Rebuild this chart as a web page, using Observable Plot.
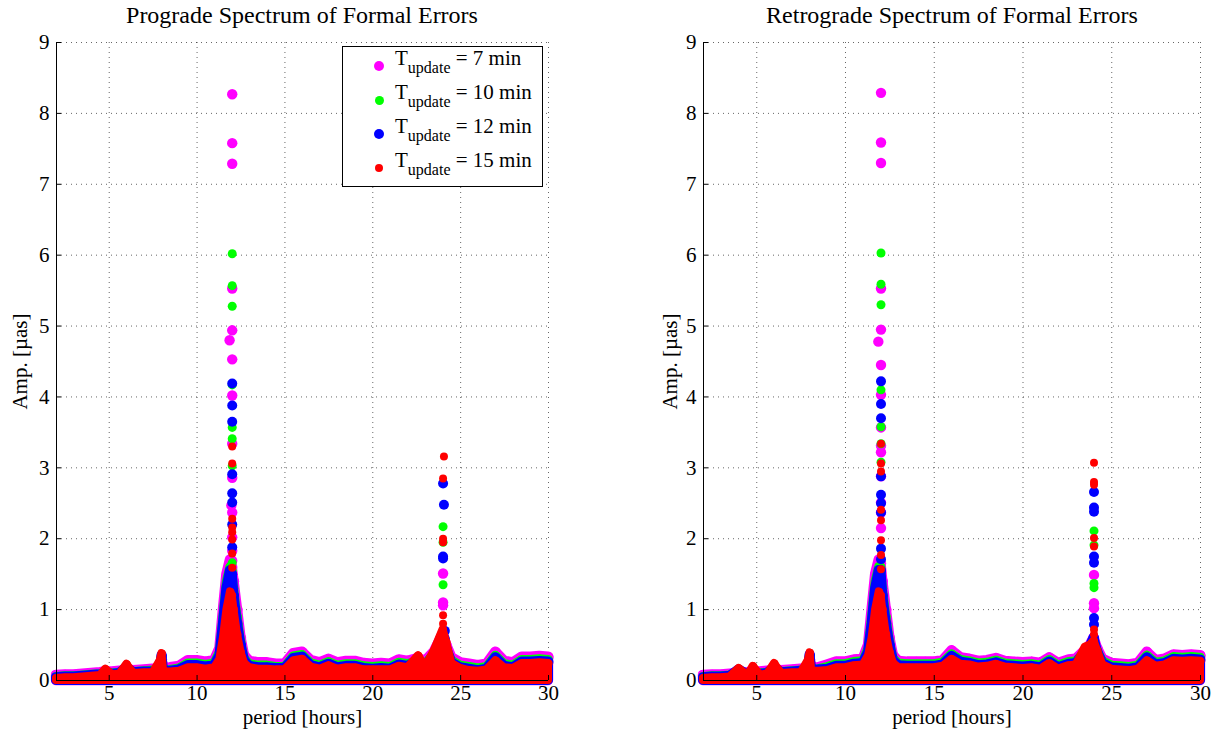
<!DOCTYPE html>
<html>
<head>
<meta charset="utf-8">
<script src="https://cdn.jsdelivr.net/npm/d3@7"></script>
<script src="https://cdn.jsdelivr.net/npm/@observablehq/plot@0.6"></script>
<style>
  body { margin: 0; background: #fff; }
  #wrap { position: relative; width: 1217px; height: 730px; font-family: "Liberation Serif", "Times New Roman", serif; color: #000; }
  .title { position: absolute; top: 2px; font-size: 24px; text-align: center; width: 500px; }
  .panel { position: absolute; top: 30px; }
  #legend { position: absolute; left: 342px; top: 46px; width: 199px; height: 139px; border: 1px solid #000; background: #fff; }
  .row { position: absolute; left: 0; height: 30px; font-size: 21px; white-space: nowrap; }
  .row .dot { position: absolute; border-radius: 50%; }
  .row .txt { position: absolute; left: 52px; top: -3px; }
  .row sub { font-size: 16px; vertical-align: -8px; }
</style>
</head>
<body>
<div id="wrap">
  <div class="title" style="left:52px">Prograde Spectrum of Formal Errors</div>
  <div class="title" style="left:702px">Retrograde Spectrum of Formal Errors</div>
  <div class="panel" id="left" style="left:0px"></div>
  <div class="panel" id="right" style="left:620px"></div>
  <div id="legend"></div>
</div>
<script>
// ---- data ----
const seriesNames = ["7 min", "10 min", "12 min", "15 min"];
const seriesColors = ["#ff00ff", "#00ff00", "#0000ff", "#ff0000"];
const seriesRadius = [5.2, 4.5, 5, 4];
const xTicks = [5, 10, 15, 20, 25, 30];
const yTicks = [0, 1, 2, 3, 4, 5, 6, 7, 8, 9];
const xDomain = [2, 30];
const yDomain = [0, 9];

// periods [hours] at which the upper edge of the dense point band was read
const periods = [2, 2.5, 3, 3.5, 4, 4.5, 4.8, 5.2, 5.6, 6, 6.4, 7, 7.5, 7.9, 8, 8.1, 8.5, 9, 9.5, 10,
  10.5, 11, 11.3, 11.5, 11.7, 11.9, 12, 12.1, 12.3, 12.5, 12.7, 13, 13.5, 14, 14.5, 15, 15.5, 16, 16.5, 17,
  17.5, 18, 18.5, 19, 19.5, 20, 20.5, 21, 21.5, 22, 22.6, 23, 23.5, 23.8, 24, 24.2, 24.5, 25, 25.5, 26,
  26.5, 27, 27.5, 28, 28.5, 29, 29.5, 30];

// Prograde band upper edge
const proM = [0.07,0.08,0.08,0.09,0.10,0.11,0.12,0.12,0.13,0.15, 0.14,0.15,0.16,0.16,0.30,0.16,0.18,0.20,0.28,0.28,
  0.26,0.28,0.45,1.00,1.50,1.70,1.60,1.40,1.00,0.60, 0.35,0.27,0.25,0.25,0.23,0.23,0.38,0.40,0.28,0.25,
  0.30,0.25,0.27,0.27,0.24,0.23,0.24,0.23,0.29,0.27, 0.31,0.27,0.40,0.55,0.65,0.50,0.32,0.25,0.23,0.21,
  0.23,0.40,0.27,0.25,0.33,0.33,0.34,0.33];
const proG = [0.05,0.06,0.06,0.07,0.08,0.09,0.10,0.10,0.11,0.13, 0.12,0.13,0.14,0.14,0.32,0.14,0.15,0.17,0.24,0.24,
  0.22,0.24,0.40,0.90,1.40,1.60,1.55,1.30,0.90,0.55, 0.31,0.23,0.21,0.21,0.19,0.19,0.34,0.36,0.24,0.21,
  0.26,0.21,0.23,0.23,0.20,0.19,0.20,0.19,0.25,0.23, 0.27,0.23,0.37,0.50,0.60,0.46,0.28,0.21,0.19,0.17,
  0.19,0.35,0.23,0.21,0.29,0.29,0.30,0.29];
const proB = [0.04,0.05,0.05,0.06,0.07,0.08,0.09,0.09,0.10,0.18, 0.11,0.12,0.12,0.13,0.35,0.13,0.13,0.15,0.21,0.21,
  0.19,0.21,0.35,0.80,1.30,1.55,1.50,1.20,0.80,0.50, 0.28,0.20,0.18,0.18,0.17,0.17,0.31,0.33,0.21,0.18,
  0.23,0.18,0.20,0.20,0.17,0.16,0.17,0.16,0.22,0.20, 0.27,0.20,0.36,0.48,0.60,0.45,0.25,0.18,0.16,0.14,
  0.16,0.32,0.20,0.18,0.26,0.26,0.27,0.26];
const proR = [0.03,0.04,0.04,0.05,0.06,0.07,0.16,0.08,0.09,0.23, 0.10,0.11,0.11,0.28,0.38,0.12,0.12,0.13,0.18,0.18,
  0.16,0.18,0.30,0.60,1.00,1.25,1.20,1.00,0.65,0.40, 0.24,0.18,0.16,0.16,0.15,0.15,0.28,0.30,0.19,0.16,
  0.21,0.16,0.18,0.18,0.15,0.15,0.15,0.15,0.20,0.18, 0.35,0.19,0.42,0.60,0.72,0.54,0.24,0.17,0.14,0.13,
  0.15,0.28,0.18,0.17,0.24,0.24,0.25,0.24];

// Retrograde band upper edge
const retM = [0.07,0.08,0.08,0.09,0.10,0.11,0.12,0.12,0.13,0.15, 0.14,0.15,0.16,0.16,0.30,0.17,0.18,0.22,0.26,0.26,
  0.29,0.30,0.50,1.00,1.50,1.70,1.65,1.40,1.00,0.60, 0.35,0.27,0.26,0.26,0.26,0.26,0.28,0.42,0.32,0.30,
  0.27,0.28,0.31,0.27,0.26,0.25,0.26,0.24,0.32,0.24, 0.29,0.30,0.42,0.50,0.60,0.45,0.30,0.24,0.23,0.22,
  0.24,0.40,0.28,0.30,0.36,0.35,0.36,0.35];
const retG = [0.05,0.06,0.06,0.07,0.08,0.09,0.10,0.10,0.11,0.13, 0.12,0.13,0.14,0.14,0.32,0.15,0.16,0.19,0.23,0.23,
  0.26,0.27,0.45,0.90,1.40,1.60,1.60,1.30,0.90,0.55, 0.31,0.24,0.23,0.23,0.23,0.23,0.25,0.37,0.29,0.27,
  0.24,0.25,0.28,0.24,0.23,0.22,0.23,0.21,0.29,0.21, 0.26,0.27,0.39,0.47,0.58,0.42,0.27,0.21,0.20,0.19,
  0.21,0.35,0.25,0.27,0.33,0.32,0.33,0.32];
const retB = [0.04,0.05,0.05,0.06,0.15,0.08,0.09,0.09,0.10,0.18, 0.11,0.12,0.13,0.13,0.36,0.14,0.15,0.16,0.20,0.20,
  0.23,0.24,0.40,0.80,1.30,1.55,1.55,1.20,0.80,0.50, 0.28,0.21,0.20,0.20,0.20,0.20,0.22,0.34,0.26,0.24,
  0.21,0.22,0.25,0.21,0.20,0.19,0.20,0.18,0.26,0.18, 0.23,0.24,0.40,0.48,0.60,0.40,0.24,0.18,0.17,0.16,
  0.18,0.32,0.22,0.24,0.30,0.29,0.30,0.29];
const retR = [0.03,0.04,0.04,0.05,0.17,0.07,0.20,0.08,0.09,0.24, 0.10,0.11,0.11,0.28,0.39,0.13,0.13,0.14,0.18,0.18,
  0.21,0.22,0.35,0.60,1.00,1.25,1.20,1.00,0.65,0.40, 0.24,0.18,0.18,0.18,0.18,0.18,0.20,0.30,0.23,0.22,
  0.19,0.20,0.23,0.19,0.18,0.17,0.18,0.16,0.24,0.16, 0.21,0.22,0.47,0.50,0.56,0.42,0.22,0.16,0.15,0.14,
  0.16,0.28,0.20,0.22,0.28,0.27,0.28,0.27];

// isolated points above the band: [period, amplitude]
const proSpikeM = [[12,8.27],[12,7.58],[12,7.29],[12,5.53],[12,4.94],[11.85,4.8],[12,4.53],[12,4.02],[12,3.34],[12,2.86],[11.95,2.47],[12,2.37],[12,2.02],[12,1.83],[12,1.69],[24,1.51],[24,1.1],[24,1.06]];
const proSpikeG = [[12,6.02],[12,5.57],[12,5.28],[12,4.17],[12,3.57],[12,3.41],[12,3.03],[12,1.66],[24,2.17],[24,1.95],[24,1.35]];
const proSpikeB = [[12,4.19],[12,3.88],[12,3.65],[12,2.91],[12,2.64],[12,2.51],[12,2.2],[12,1.88],[24,2.78],[24.05,2.48],[24,1.75],[24,1.72],[24.1,0.7],[24.1,0.59]];
const proSpikeR = [[12,3.3],[12,3.06],[12,2.28],[12,2.16],[12,2.09],[12,1.99],[12,1.79],[12,1.59],[24.05,3.16],[24,2.85],[24,2.0],[24,1.95],[24,0.92],[24,0.8]];

const retSpikeM = [[12,8.29],[12,7.59],[12,7.3],[12,5.53],[12,4.95],[11.85,4.78],[12,4.45],[12,4.03],[12,3.57],[12,3.31],[12,3.22],[12,2.88],[12,2.51],[12,2.37],[12,2.15],[12,1.42],[24,1.49],[24,1.09],[24,1.02]];
const retSpikeG = [[12,6.03],[12,5.59],[12,5.3],[12,4.1],[12,3.58],[12,3.34],[12,3.08],[24,2.11],[24,1.91],[24,1.37],[24,1.31]];
const retSpikeB = [[12,4.22],[12,3.9],[12,3.7],[12,2.88],[12,2.62],[12,2.5],[12,2.37],[12,1.86],[12,1.71],[24,2.66],[24,2.44],[24,2.38],[24,1.75],[24,1.66],[24,0.88],[24,0.79]];
const retSpikeR = [[12,3.34],[12,3.06],[12,2.95],[12,2.41],[12,2.26],[12,1.98],[12,1.77],[12,1.57],[24,3.07],[24,2.8],[24,2.76],[24,2.01],[24,1.89],[24,0.72],[24,0.65]];

// ---- drawing ----
function panel(bands, spikes, opts) {
  const marks = [
    Plot.gridX(xTicks, {stroke: "#000", strokeOpacity: 0.6, strokeDasharray: "1,4"}),
    Plot.gridY(yTicks, {stroke: "#000", strokeOpacity: 0.6, strokeDasharray: "1,4"})
  ];
  bands.forEach((vals, i) => {
    const data = periods.map((p, j) => ({p, v: vals[j]}));
    const c = seriesColors[i], r = seriesRadius[i];
    marks.push(Plot.areaY(data, {x: "p", y: "v", fill: c, stroke: c, strokeWidth: 2 * r, strokeLinejoin: "round"}));
    marks.push(Plot.dot(data, {x: "p", y: "v", r, fill: c}));
    marks.push(Plot.dot(spikes[i], {x: d => d[0], y: d => d[1], r, fill: c}));
  });
  marks.push(Plot.ruleX([xDomain[0]], {stroke: "#000"}));
  marks.push(Plot.ruleY([yDomain[0]], {stroke: "#000"}));
  marks.push(Plot.axisX(xTicks, {tickSize: -5, tickPadding: 10, tickFormat: "d", fontSize: 21, label: "period [hours]", labelAnchor: "center", labelArrow: "none", labelOffset: 43}));
  marks.push(Plot.axisY(yTicks, {tickSize: -5, tickPadding: 12, tickFormat: "d", fontSize: 21, label: "Amp. [\u00b5as]", labelAnchor: "center", labelArrow: "none", labelOffset: opts.labelOffset}));
  return Plot.plot({
    width: opts.width, height: 700,
    marginLeft: opts.ml, marginRight: opts.mr, marginTop: 12, marginBottom: 50,
    x: {domain: xDomain},
    y: {domain: yDomain},
    style: {fontFamily: "'Liberation Serif', 'Times New Roman', serif", fontSize: "21px", background: "transparent", overflow: "visible"},
    marks
  });
}

document.getElementById("left").append(panel([proM, proG, proB, proR], [proSpikeM, proSpikeG, proSpikeB, proSpikeR], {width: 600, ml: 56, mr: 52, labelOffset: 44}));
document.getElementById("right").append(panel([retM, retG, retB, retR], [retSpikeM, retSpikeG, retSpikeB, retSpikeR], {width: 597, ml: 83, mr: 17, labelOffset: 41}));

// legend
const legend = document.getElementById("legend");
seriesNames.forEach((name, i) => {
  const row = document.createElement("div");
  row.className = "row";
  row.style.top = (2 + i * 34) + "px";
  row.style.width = "199px";
  const dot = document.createElement("div");
  dot.className = "dot";
  const r = seriesRadius[i];
  dot.style.width = dot.style.height = (2 * r) + "px";
  dot.style.left = (36 - r) + "px";
  dot.style.top = (17 - r) + "px";
  dot.style.background = seriesColors[i];
  const txt = document.createElement("div");
  txt.className = "txt";
  txt.innerHTML = "T<sub>update</sub> = " + name;
  row.append(dot, txt);
  legend.append(row);
});
</script>
</body>
</html>
